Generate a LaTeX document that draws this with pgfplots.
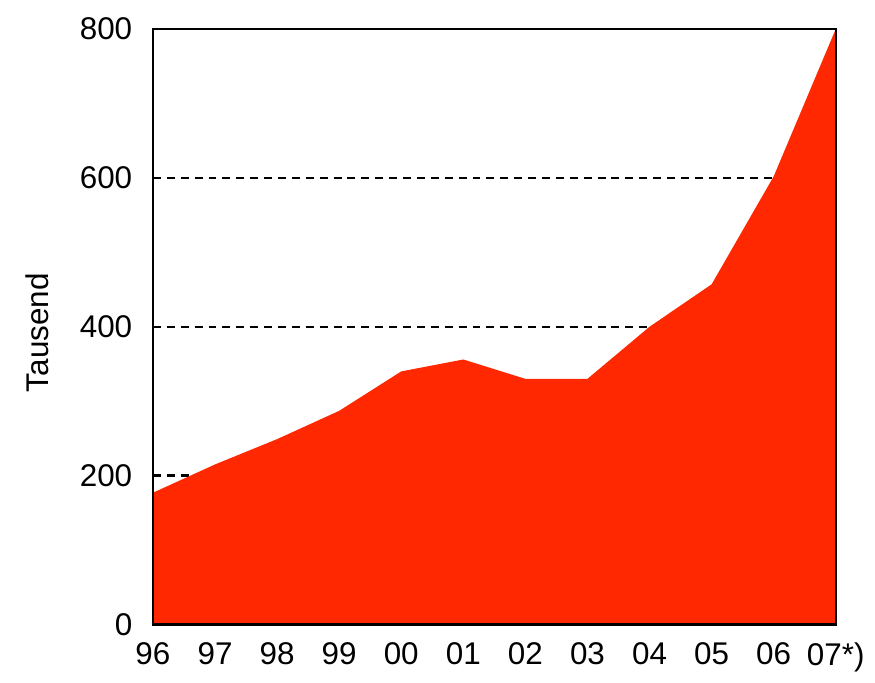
\documentclass[border=0pt]{standalone}
\usepackage{fontspec}
\setmainfont{Liberation Sans}
\usepackage{pgfplots}
\pgfplotsset{compat=1.18}
\definecolor{areared}{RGB}{255,40,0}
\begin{document}
\fontsize{18}{21}\selectfont
\begin{tikzpicture}
\begin{axis}[
    scale only axis,
    width=13.76cm, height=12cm,
    xmin=0, xmax=11,
    ymin=0, ymax=800,
    xtick={0,...,11},
    xticklabels={96,97,98,99,00,01,02,03,04,05,06,07*)},
    ytick={0,200,400,600,800},
    major tick length=0pt,
    /pgf/number format/assume math mode=true,
    ticklabel style={font=\fontsize{18}{21}\selectfont},
    yticklabel style={xshift=-0.2cm},
    xticklabel style={yshift=-0.15cm},
    ymajorgrids,
    set layers=standard,
    axis on top,
    major grid style={black, line width=1.3pt, dash pattern=on 0.16cm off 0.12cm, /pgfplots/on layer=axis background},
    axis line style={black, line width=1.2pt},
    ylabel={Tausend},
    every axis y label/.style={at={(axis description cs:-0.17,0.49)}, rotate=90, anchor=center, font=\fontsize{18}{21}\selectfont},
]
\addplot[fill=areared, draw=none] coordinates {
    (0,177) (1,215) (2,249) (3,287) (4,340) (5,356)
    (6,330) (7,330) (8,400) (9,457) (10,602) (11,800)
} \closedcycle;
\end{axis}
\path (current bounding box.south west) ++(-0.3cm,0) coordinate (padl);
\path (padl);
\path (current bounding box.north east) ++(0,0.15cm) coordinate (padt);
\path (padt);
\end{tikzpicture}
\end{document}
